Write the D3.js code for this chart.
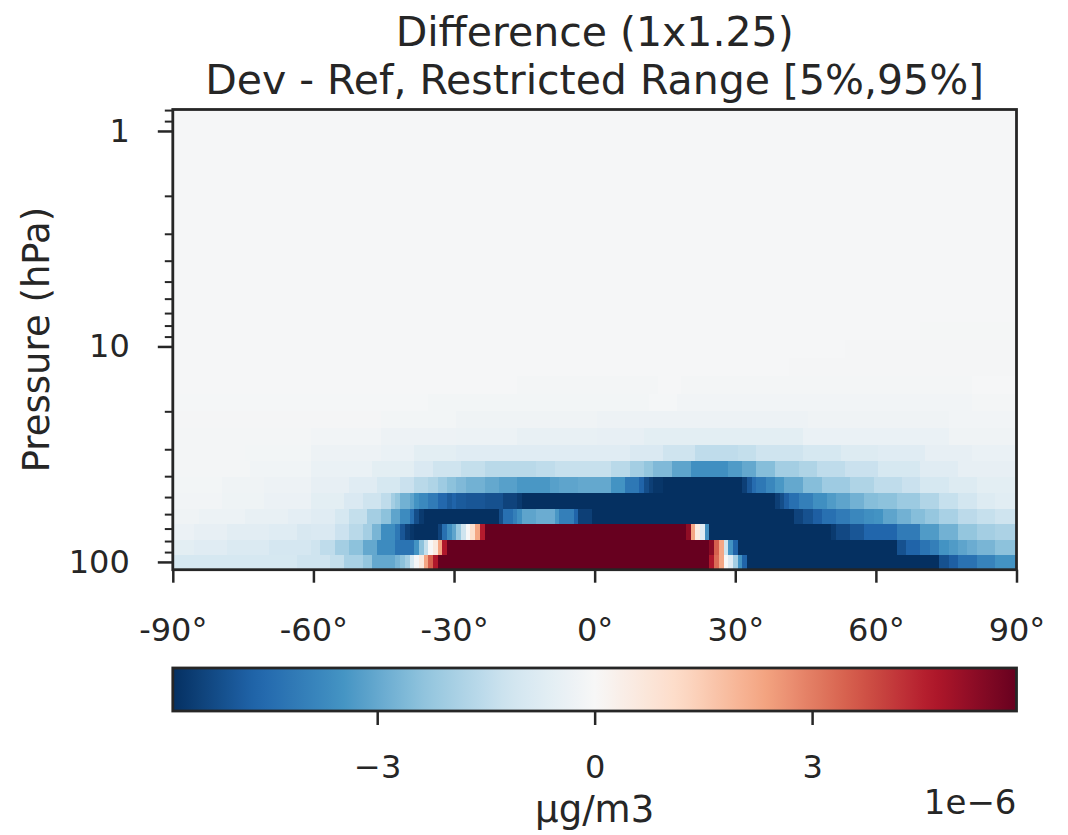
<!DOCTYPE html>
<html><head><meta charset="utf-8">
<script src="https://cdn.jsdelivr.net/npm/d3@7"></script>
<style>body{margin:0;background:#fff}text{font-family:"DejaVu Sans",sans-serif;fill:#262626}</style>
</head><body><svg id="chart" width="1068" height="835"></svg>
<script>
// Layer edge pressures (hPa), bottom to top (GEOS-Chem 72-level grid)
const levelEdges = [108.663, 92.366, 78.512, 66.603, 56.388, 47.644, 40.175, 33.810, 28.368, 23.730,
  19.792, 16.457, 13.643, 11.277, 9.293, 7.620, 6.217, 5.047, 4.077, 3.276, 2.620, 2.085, 1.651, 1.301, 1.019, 0.795];

// Each layer: runs of 1° latitude cells [firstLat, lastLat, value], value in 1e-7 µg/m3
const lev01 = [[-90,-64,-10],[-63,-57,-12],[-56,-54,-14],[-53,-50,-19],[-49,-48,-23],[-47,-43,-30],[-42,-42,-27],[-41,-41,-24],[-40,-40,-20],[-39,-39,-10],[-38,-38,-1],[-37,-37,6],[-36,-36,23],[-35,-35,35],[-34,-34,47],[-33,24,65],[25,25,47],[26,26,33],[27,27,23],[28,28,0],[29,29,-7],[30,30,-20],[31,31,-35],[32,32,-47],[33,73,-65],[74,75,-51],[76,77,-48],[78,81,-43.5],[82,85,-39],[86,90,-35]];
const lev02 = [[-90,-86,-6],[-85,-79,-7],[-78,-70,-8.5],[-69,-61,-10.5],[-60,-59,-12],[-58,-56,-15],[-55,-53,-20],[-52,-50,-24],[-49,-47,-30],[-46,-43,-37],[-42,-39,-43],[-38,-38,-35],[-37,-37,-24],[-36,-36,-14],[-35,-35,0],[-34,-34,6],[-33,-33,23],[-32,-32,47],[-31,24,65],[25,25,53],[26,26,35],[27,27,23],[28,28,-12],[29,29,-35],[30,30,-47],[31,64,-65],[65,66,-51],[67,69,-47],[70,71,-43],[72,73,-40],[74,75,-35],[76,77,-33],[78,79,-31],[80,81,-29],[82,85,-27],[86,90,-24]];
const lev03 = [[-90,-86,-3.7],[-85,-79,-5],[-78,-70,-6.4],[-69,-64,-7.4],[-63,-61,-9.5],[-60,-56,-9],[-55,-53,-12.6],[-52,-50,-16],[-49,-48,-20],[-47,-46,-27],[-45,-43,-36.6],[-42,-42,-42],[-41,-41,-50],[-40,-40,-54.5],[-39,-39,-57],[-38,-34,-65],[-33,-33,-54],[-32,-32,-44],[-31,-31,-36],[-30,-30,-31],[-29,-29,-22],[-28,-28,-12],[-27,-27,0],[-26,-26,10],[-25,-25,23],[-24,-24,46],[-23,19,65],[20,20,52],[21,21,23],[22,22,5],[23,23,-7],[24,24,-36],[25,50,-65],[51,51,-56],[52,54,-53],[55,57,-50],[58,64,-46.5],[65,69,-41],[70,73,-33],[74,77,-28],[78,81,-23],[82,85,-20],[86,90,-18.5]];
const lev04 = [[-90,-85,-2.5],[-84,-75,-3.4],[-74,-66,-4.6],[-65,-61,-5.8],[-60,-56,-7],[-55,-53,-10],[-52,-49,-14],[-48,-46,-20],[-45,-44,-24],[-43,-42,-31],[-41,-40,-37],[-39,-39,-44],[-38,-38,-52],[-37,-37,-56],[-36,-21,-65],[-20,-20,-52],[-19,-18,-44],[-17,-17,-40],[-16,-16,-36],[-15,-13,-31],[-12,-9,-29],[-8,-8,-34],[-7,-5,-40],[-4,-4,-47],[-3,-1,-55],[0,42,-65],[43,44,-54],[45,46,-51],[47,48,-48],[49,51,-44],[52,54,-41],[55,57,-38],[58,59,-36],[60,61,-35],[62,64,-31],[65,67,-28],[68,70,-25],[71,73,-22.5],[74,77,-19],[78,81,-15.5],[82,85,-13.6],[86,90,-12]];
const lev05 = [[-90,-80,-1.8],[-79,-71,-2.8],[-70,-61,-3.7],[-60,-54,-6],[-53,-50,-9],[-49,-46,-12],[-45,-44,-15],[-43,-43,-20],[-42,-42,-23],[-41,-40,-28],[-39,-39,-31],[-38,-38,-35],[-37,-36,-37.5],[-35,-34,-41],[-33,-32,-46],[-31,-31,-49],[-30,-30,-47],[-29,-28,-49],[-27,-24,-50],[-23,-20,-51],[-19,-17,-54],[-16,-16,-56],[-15,38,-65],[39,39,-55],[40,40,-52],[41,41,-48],[42,43,-44],[44,46,-40],[47,49,-36],[50,51,-33],[52,54,-31],[55,57,-28],[58,60,-25],[61,64,-24],[65,69,-21.5],[70,73,-17.5],[74,77,-13.6],[78,81,-11],[82,85,-8],[86,90,-6.7]];
const lev06 = [[-90,-80,-1.5],[-79,-71,-2.5],[-70,-61,-3.1],[-60,-53,-5],[-52,-47,-7],[-46,-42,-10],[-41,-39,-13],[-38,-36,-16],[-35,-34,-18],[-33,-32,-21],[-31,-30,-24],[-29,-28,-26],[-27,-24,-28],[-23,-21,-30],[-20,-17,-32],[-16,-10,-34],[-9,-8,-32],[-7,-4,-31],[-3,3,-30],[4,6,-35],[7,9,-42],[10,10,-47],[11,11,-52],[12,12,-55],[13,14,-57],[15,31,-65],[32,32,-55],[33,33,-50],[34,34,-45],[35,36,-42],[37,38,-38],[39,40,-34],[41,44,-30],[45,48,-25],[49,54,-21],[55,59,-18],[60,65,-15],[66,69,-13],[70,75,-10],[76,81,-8],[82,90,-6]];
const lev07 = [[-90,-74,-1.2],[-73,-61,-2.2],[-60,-48,-4],[-47,-39,-6],[-38,-35,-9],[-34,-29,-12],[-28,-24,-14],[-23,-13,-16],[-12,-9,-15],[-8,3,-13.5],[4,7,-16],[8,10,-20],[11,12,-23],[13,16,-26],[17,20,-31],[21,28,-36],[29,31,-33],[32,34,-30],[35,38,-25],[39,43,-20],[44,47,-18],[48,53,-15],[54,60,-13],[61,69,-10],[70,77,-7],[78,90,-5]];
const lev08 = [[-90,-75,-1.2],[-74,-61,-1.6],[-60,-46,-3],[-45,-39,-4],[-38,-30,-6],[-29,7,-7],[8,14,-9],[15,21,-12],[22,30,-15],[31,34,-14],[35,44,-12],[45,52,-10],[53,60,-8],[61,70,-7],[71,80,-5],[81,90,-4]];
const lev09 = [[-90,-61,-1.2],[-60,-46,-1.8],[-45,-30,-3],[-29,-17,-3.5],[-16,0,-4.5],[1,10,-5],[11,44,-6],[45,75,-4],[76,90,-2.5]];
const lev10 = [[-90,-46,-1],[-45,-30,-1.5],[-29,0,-2.5],[1,45,-3],[46,75,-2.5],[76,90,-1.8]];
const lev11 = [[-90,-36,-0.8],[-35,11,-1.5],[12,17,-0.8],[18,80,-1.8],[81,90,-1.2]];
const lev12 = [[-90,-17,-0.6],[-16,13,-1.2],[14,18,-0.6],[19,80,-1.2],[81,90,-0.6]];
const lev13 = [[-90,41,-0.5],[42,90,-1]];
const lev14 = [[-90,53,-0.5],[54,90,-1]];
const lev15 = [[-90,69,-0.5],[70,90,-0.9]];
const lev16 = [[-90,90,-0.5]];
const lev17 = [[-90,90,-0.5]];
const lev18 = [[-90,90,-0.5]];
const lev19 = [[-90,90,-0.5]];
const lev20 = [[-90,90,-0.5]];
const lev21 = [[-90,90,-0.5]];
const lev22 = [[-90,90,-0.5]];
const lev23 = [[-90,90,-0.5]];
const lev24 = [[-90,90,-0.5]];
const lev25 = [[-90,90,-0.5]];
const layers = [lev01,lev02,lev03,lev04,lev05,lev06,lev07,lev08,lev09,lev10,lev11,lev12,lev13,
  lev14,lev15,lev16,lev17,lev18,lev19,lev20,lev21,lev22,lev23,lev24,lev25];

const xTicks = [-90, -60, -30, 0, 30, 60, 90];
const yMajorTicks = [1, 10, 100];
const yMinorTicks = [0.8, 0.9, 2, 3, 4, 5, 6, 7, 8, 9, 20, 30, 40, 50, 60, 70, 80, 90];
const cbarTicks = [-3, 0, 3];         // ×1e-6
const colorLimit = 5.82;              // ×1e-6 (colour range ±)
const rdbuR = ["#053061","#2166ac","#4393c3","#92c5de","#d1e5f0","#f7f7f7","#fddbc7","#f4a582","#d6604d","#b2182b","#67001f"];
const titleLines = ["Difference (1x1.25)", "Dev - Ref, Restricted Range [5%,95%]"];

const ink = "#262626";
const FS_TICK = 32, FS_LABEL = 37, FS_TITLE = 41;
const svg = d3.select("#chart");
const L = 172.8, R = 1016.5, T = 109.5, B = 569.7;

const x = d3.scaleLinear().domain([-90, 90]).range([L, R]);
const y = d3.scaleLog().domain([levelEdges[0], levelEdges[levelEdges.length-1]]).range([B, T]);
const lim7 = colorLimit * 10; // data units are 1e-7
const color = d3.scaleLinear()
  .domain(rdbuR.map((c, i) => -lim7 + i * 2 * lim7 / (rdbuR.length - 1)))
  .range(rdbuR).interpolate(d3.interpolateRgb).clamp(true);

// heatmap cells
const cells = svg.append("g").attr("shape-rendering", "crispEdges");
layers.forEach((segs, k) => {
  const p0 = levelEdges[k], p1 = levelEdges[k + 1];
  cells.selectAll(null).data(segs).enter().append("rect")
    .attr("x", d => x(Math.max(d[0] - 0.5, -90)))
    .attr("width", d => x(Math.min(d[1] + 0.5, 90)) - x(Math.max(d[0] - 0.5, -90)) + 0.6)
    .attr("y", y(p1))
    .attr("height", y(p0) - y(p1) + 0.6)
    .attr("fill", d => color(d[2]));
});

// axes
function styleAxis(g) {
  g.select(".domain").remove();
  g.selectAll(".tick line").attr("stroke", ink).attr("stroke-width", 2.5);
  g.selectAll(".tick text").style("font-family", '"DejaVu Sans", sans-serif').attr("fill", ink);
}
const xAxis = svg.append("g").attr("transform", `translate(0,${B})`)
  .call(d3.axisBottom(x).tickValues(xTicks).tickFormat(d => d + "°").tickSize(13).tickPadding(36))
  .attr("font-size", FS_TICK);
styleAxis(xAxis);

const yAxis = svg.append("g").attr("transform", `translate(${L},0)`)
  .call(d3.axisLeft(y).tickValues(yMajorTicks).tickFormat(d3.format("d")).tickSize(15).tickPadding(28))
  .attr("font-size", FS_TICK);
styleAxis(yAxis);
const yMinor = svg.append("g").attr("transform", `translate(${L},0)`)
  .call(d3.axisLeft(y).tickValues(yMinorTicks).tickFormat("").tickSize(8));
styleAxis(yMinor);
yMinor.selectAll(".tick line").attr("stroke-width", 2);

// frame
svg.append("rect").attr("x", L).attr("y", T).attr("width", R - L).attr("height", B - T)
  .attr("fill", "none").attr("stroke", ink).attr("stroke-width", 2.8);

svg.append("text").attr("transform", `translate(49,${(T + B) / 2}) rotate(-90)`)
  .attr("text-anchor", "middle").attr("font-size", FS_LABEL).text("Pressure (hPa)");

// two-line title
titleLines.forEach((t, i) => {
  svg.append("text").attr("x", (L + R) / 2).attr("y", 46 + i * 48)
    .attr("text-anchor", "middle").attr("font-size", FS_TITLE).text(t);
});

// colorbar
const cbT = 668, cbB = 711;
const cx = d3.scaleLinear().domain([-colorLimit, colorLimit]).range([L, R]);
const grad = svg.append("defs").append("linearGradient").attr("id", "cbgrad")
  .attr("x1", "0%").attr("x2", "100%").attr("y1", "0%").attr("y2", "0%");
d3.range(0, 65).forEach(i => {
  const t = i / 64;
  grad.append("stop").attr("offset", (t * 100) + "%").attr("stop-color", color(-lim7 + t * 2 * lim7));
});
svg.append("rect").attr("x", L).attr("y", cbT).attr("width", R - L).attr("height", cbB - cbT)
  .attr("fill", "url(#cbgrad)").attr("stroke", ink).attr("stroke-width", 2.8);
const cAxis = svg.append("g").attr("transform", `translate(0,${cbB})`)
  .call(d3.axisBottom(cx).tickValues(cbarTicks).tickFormat(d3.format("d")).tickSize(14).tickPadding(30))
  .attr("font-size", FS_TICK);
styleAxis(cAxis);
svg.append("text").attr("x", (L + R) / 2).attr("y", 822).attr("text-anchor", "middle")
  .attr("font-size", FS_LABEL).text("µg/m3");
svg.append("text").attr("x", R).attr("y", 814).attr("text-anchor", "end")
  .attr("font-size", 34).text("1e\u22126");
</script></body></html>
